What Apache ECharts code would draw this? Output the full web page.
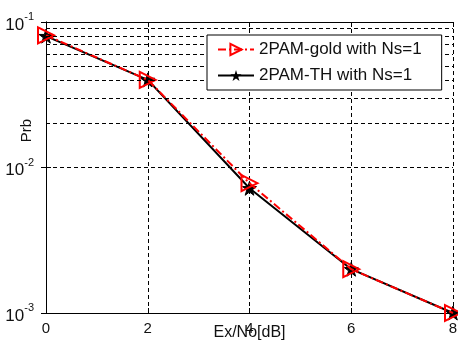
<!DOCTYPE html>
<html><head><meta charset="utf-8">
<script src="https://cdn.jsdelivr.net/npm/echarts@6/dist/echarts.min.js"></script>
<style>html,body{margin:0;padding:0;background:#fff}#c{width:458px;height:346px}</style>
</head><body><div id="c"></div>
<script>
const xValues = [0, 2, 4, 6, 8];
const goldPrb = [0.081, 0.040, 0.0078, 0.0020, 0.0010];
const thPrb = [0.080, 0.040, 0.0072, 0.0020, 0.0010];
const minorGrid = [0.002,0.003,0.004,0.005,0.006,0.007,0.008,0.009,0.02,0.03,0.04,0.05,0.06,0.07,0.08,0.09];
const xTickLabels = ['0','2','4','6','8'];
const yExpLabels = {'0.1':'-1','0.01':'-2','0.001':'-3'};
const seriesNames = ['2PAM-gold with Ns=1', '2PAM-TH with Ns=1'];

const FONT = '"Liberation Sans", Arial, sans-serif';
const starPath = 'path://M50,0 L61.8,36.3 L100,36.3 L69.1,58.8 L80.9,95.1 L50,72.7 L19.1,95.1 L30.9,58.8 L0,36.3 L38.2,36.3 Z';
const dash = [4, 3];

const chart = echarts.init(document.getElementById('c'));
chart.setOption({
  backgroundColor: '#fff',
  animation: false,
  grid: {left: 46, right: 5, top: 22, bottom: 33, containLabel: false, outerBoundsMode: 'none'},
  legend: {
    left: 207, top: 35, orient: 'vertical', z: 20,
    backgroundColor: '#fff', borderColor: '#000', borderWidth: 1,
    padding: [6, 20, 6, 10], itemGap: 9, itemWidth: 36, itemHeight: 14,
    textStyle: {fontFamily: FONT, fontSize: 17, color: '#111'},
    data: seriesNames
  },
  xAxis: [{
    type: 'value', min: 0, max: 8, interval: 2,
    axisLine: {lineStyle: {color: '#000', width: 1}},
    axisTick: {inside: true, length: 5, lineStyle: {color: '#000'}},
    axisLabel: {fontFamily: FONT, fontSize: 15, color: '#111', margin: 8,
      formatter: v => xTickLabels[xValues.indexOf(v)] || ''},
    splitLine: {show: true, lineStyle: {color: '#000', type: dash, width: 1}},
    name: 'Ex/No[dB]', nameLocation: 'middle', nameGap: 12, nameMoveOverlap: false,
    nameTextStyle: {fontFamily: FONT, fontSize: 16, color: '#111'}
  }, {
    type: 'value', min: 0, max: 8, interval: 2, position: 'top',
    axisLine: {show: true, lineStyle: {color: '#000', width: 1}},
    axisTick: {inside: true, length: 5, lineStyle: {color: '#000'}},
    axisLabel: {show: false}, splitLine: {show: false}
  }],
  yAxis: [{
    type: 'log', logBase: 10, min: 0.001, max: 0.1,
    axisLine: {show: true, lineStyle: {color: '#000', width: 1}},
    axisTick: {inside: true, length: 5, lineStyle: {color: '#000'}},
    axisLabel: {fontFamily: FONT, color: '#111', margin: 12,
      formatter: v => {
        const k = Object.keys(yExpLabels).find(key => Math.abs(parseFloat(key) - v) < v * 1e-6);
        return k ? '{b|10}{s|' + yExpLabels[k] + '}' : '';
      },
      rich: {
        b: {fontFamily: FONT, fontSize: 17, color: '#111', padding: [6, 0, 0, 0]},
        s: {fontFamily: FONT, fontSize: 11, color: '#111', padding: [0, 0, 10, 0]}
      }
    },
    splitLine: {show: true, lineStyle: {color: '#000', type: dash, width: 1}},
    name: 'Prb', nameLocation: 'middle', nameGap: 12, nameMoveOverlap: false,
    nameTextStyle: {fontFamily: FONT, fontSize: 15, color: '#111', padding: [0, 0, 0, 74]}
  }, {
    type: 'log', logBase: 10, min: 0.001, max: 0.1, position: 'right',
    axisLine: {show: true, lineStyle: {color: '#000', width: 1}},
    axisTick: {inside: true, length: 5, lineStyle: {color: '#000'}},
    axisLabel: {show: false}, splitLine: {show: false}
  }],
  series: [{
    name: '_grid', type: 'line', data: [], silent: true, z: 1,
    markLine: {
      silent: true, symbol: 'none', animation: false,
      label: {show: false},
      lineStyle: {color: '#000', type: dash, width: 1},
      data: minorGrid.map(v => ({yAxis: v}))
    }
  }, {
    name: seriesNames[1], type: 'line', z: 3,
    data: xValues.map((x, i) => [x, thPrb[i]]),
    symbol: starPath, symbolSize: 14,
    lineStyle: {color: '#000', width: 2, type: 'solid'},
    itemStyle: {color: '#000', borderColor: '#000'}
  }, {
    name: seriesNames[0], type: 'line', z: 4,
    data: xValues.map((x, i) => [x, goldPrb[i]]),
    symbol: 'triangle', symbolRotate: -90, symbolSize: 16,
    lineStyle: {color: '#ff0000', width: 2, type: [8, 3, 2, 3]},
    itemStyle: {color: 'rgba(255,255,255,0)', borderColor: '#ff0000', borderWidth: 2}
  }]
});
</script></body></html>
